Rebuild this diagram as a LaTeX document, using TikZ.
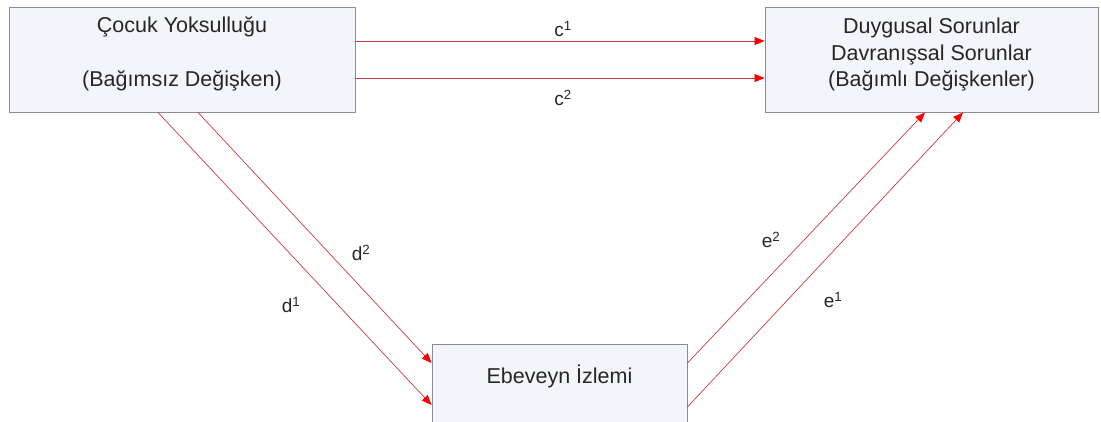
\documentclass[tikz,border=0pt]{standalone}
\usepackage{fontspec}
\setmainfont{Liberation Sans}
\usetikzlibrary{arrows.meta}
\definecolor{boxfill}{RGB}{243,245,250}
\definecolor{boxline}{RGB}{140,140,140}
\definecolor{pathred}{RGB}{195,60,60}
\tikzset{
  varbox/.style={draw=boxline, fill=boxfill, line width=0.9pt, inner sep=0pt,
    align=center, text=black!85, anchor=base},
  pathline/.style={draw=pathred, line width=0.7pt,
    -{Triangle[length=10pt,width=8pt,fill=red,color=red]}},
  coef/.style={font=\fontsize{19}{22}\selectfont, text=black!85}
}
\begin{document}
\begin{tikzpicture}[x=1pt,y=-1pt]
\clip (0,0) rectangle (1101,421);
\node[varbox, minimum width=346pt, text height=79.5pt, text depth=25.5pt,
  font=\fontsize{21.5}{54}\selectfont] (pov) at (182,86.5)
  {Çocuk Yoksulluğu\\(Bağımsız Değişken)};
\node[varbox, minimum width=333pt, text height=79.5pt, text depth=25.5pt,
  font=\fontsize{21.5}{26.5}\selectfont] (out) at (931.5,86.5)
  {Duygusal Sorunlar\\Davranışsal Sorunlar\\(Bağımlı Değişkenler)};
\node[varbox, minimum width=255pt, text height=39.5pt, text depth=52.5pt,
  font=\fontsize{21.5}{24}\selectfont] (mon) at (559.5,383.5)
  {Ebeveyn İzlemi};
% direct paths
\draw[pathline] ([yshift=18.5pt]pov.east) -- ([yshift=18.5pt]out.west);
\draw[pathline] ([yshift=-18.5pt]pov.east) -- ([yshift=-18.5pt]out.west);
% through monitoring
\draw[pathline] ([xshift=-24pt]pov.south) -- ([yshift=-15pt]mon.west);
\draw[pathline] ([xshift=16pt]pov.south) -- ([yshift=27pt]mon.west);
\draw[pathline] ([yshift=-17pt]mon.east) -- ([xshift=31.5pt]out.south);
\draw[pathline] ([yshift=27pt]mon.east) -- ([xshift=-6.5pt]out.south);
\node[coef] (c1) at (563,29) {c\textsuperscript{1}};
\node[coef] (c2) at (563,98) {c\textsuperscript{2}};
\node[coef] (d1) at (291,305) {d\textsuperscript{1}};
\node[coef] (d2) at (361,253) {d\textsuperscript{2}};
\node[coef] (e1) at (833,300) {e\textsuperscript{1}};
\node[coef] (e2) at (771,240) {e\textsuperscript{2}};
\end{tikzpicture}
\end{document}
